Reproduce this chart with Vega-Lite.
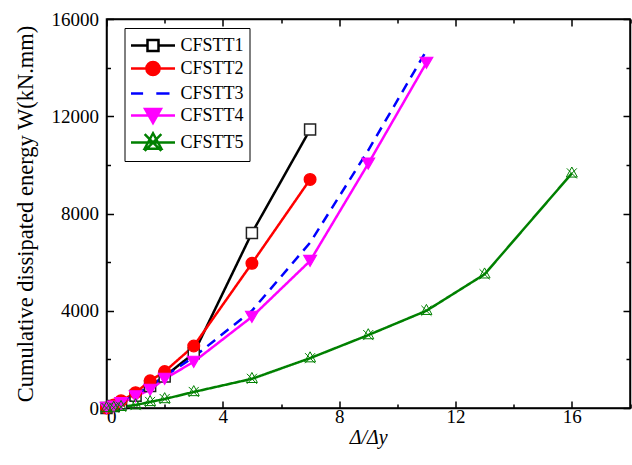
{
  "$schema": "https://vega.github.io/schema/vega-lite/v6.json",
  "autosize": {"type": "fit", "contains": "padding"},
  "width": 632,
  "height": 465,
  "padding": {"left": 13.5, "top": 10, "right": 1, "bottom": 18},
  "background": "white",
  "data": {
    "values": [
      {"series": "CFSTT1", "x": 0, "y": 0},
      {"series": "CFSTT1", "x": 0.25, "y": 80},
      {"series": "CFSTT1", "x": 0.5, "y": 200},
      {"series": "CFSTT1", "x": 1, "y": 500},
      {"series": "CFSTT1", "x": 1.5, "y": 900},
      {"series": "CFSTT1", "x": 2, "y": 1300},
      {"series": "CFSTT1", "x": 3, "y": 2250},
      {"series": "CFSTT1", "x": 5, "y": 7200},
      {"series": "CFSTT1", "x": 7, "y": 11450},
      {"series": "CFSTT2", "x": 0, "y": 0},
      {"series": "CFSTT2", "x": 0.25, "y": 120},
      {"series": "CFSTT2", "x": 0.5, "y": 300},
      {"series": "CFSTT2", "x": 1, "y": 630},
      {"series": "CFSTT2", "x": 1.5, "y": 1120},
      {"series": "CFSTT2", "x": 2, "y": 1500},
      {"series": "CFSTT2", "x": 3, "y": 2550},
      {"series": "CFSTT2", "x": 5, "y": 5950},
      {"series": "CFSTT2", "x": 7, "y": 9400},
      {"series": "CFSTT3", "x": 0, "y": 0},
      {"series": "CFSTT3", "x": 0.25, "y": 60},
      {"series": "CFSTT3", "x": 0.5, "y": 200},
      {"series": "CFSTT3", "x": 1, "y": 550},
      {"series": "CFSTT3", "x": 1.5, "y": 900},
      {"series": "CFSTT3", "x": 2, "y": 1300},
      {"series": "CFSTT3", "x": 3, "y": 2100},
      {"series": "CFSTT3", "x": 5, "y": 4000},
      {"series": "CFSTT3", "x": 7, "y": 6800},
      {"series": "CFSTT3", "x": 9, "y": 10600},
      {"series": "CFSTT3", "x": 11, "y": 14700},
      {"series": "CFSTT4", "x": 0, "y": 0},
      {"series": "CFSTT4", "x": 0.25, "y": 60},
      {"series": "CFSTT4", "x": 0.5, "y": 200},
      {"series": "CFSTT4", "x": 1, "y": 480},
      {"series": "CFSTT4", "x": 1.5, "y": 750},
      {"series": "CFSTT4", "x": 2, "y": 1200},
      {"series": "CFSTT4", "x": 3, "y": 1900},
      {"series": "CFSTT4", "x": 5, "y": 3750},
      {"series": "CFSTT4", "x": 7, "y": 6050},
      {"series": "CFSTT4", "x": 9, "y": 10050},
      {"series": "CFSTT4", "x": 11, "y": 14200},
      {"series": "CFSTT5", "x": 0, "y": 0},
      {"series": "CFSTT5", "x": 0.25, "y": 20},
      {"series": "CFSTT5", "x": 0.5, "y": 50},
      {"series": "CFSTT5", "x": 1, "y": 120},
      {"series": "CFSTT5", "x": 1.5, "y": 250},
      {"series": "CFSTT5", "x": 2, "y": 370},
      {"series": "CFSTT5", "x": 3, "y": 660},
      {"series": "CFSTT5", "x": 5, "y": 1200},
      {"series": "CFSTT5", "x": 7, "y": 2050},
      {"series": "CFSTT5", "x": 9, "y": 3000},
      {"series": "CFSTT5", "x": 11, "y": 4000},
      {"series": "CFSTT5", "x": 13, "y": 5500},
      {"series": "CFSTT5", "x": 16, "y": 9650}
    ]
  },
  "layer": [
    {
      "mark": {"type": "line", "clip": true},
      "encoding": {
        "x": {
          "field": "x", "type": "quantitative",
          "scale": {"domain": [0, 18], "nice": false, "zero": true},
          "axis": {
            "orient": "bottom",
            "values": [0, 2, 4, 6, 8, 10, 12, 14, 16, 18],
            "labelExpr": "datum.value % 4 == 0 && datum.value <= 16 ? datum.label : ''",
            "grid": false,
            "labelPadding": 6,
            "tickSize": {"condition": {"test": "datum.value % 4 == 0", "value": -7}, "value": -4},
            "title": "Δ/Δy",
            "titleFontStyle": "italic",
            "titleFontSize": 20,
            "titleFontWeight": "normal",
            "titlePadding": 1
          }
        },
        "y": {
          "field": "y", "type": "quantitative",
          "scale": {"domain": [0, 16000], "nice": false, "zero": true},
          "axis": {
            "orient": "left",
            "values": [0, 2000, 4000, 6000, 8000, 10000, 12000, 14000, 16000],
            "format": "d",
            "labelExpr": "datum.value % 4000 == 0 ? datum.label : ''",
            "grid": false,
            "labelPadding": 15,
            "tickSize": {"condition": {"test": "datum.value % 4000 == 0", "value": -7}, "value": -4},
            "title": "Cumulative dissipated energy W(kN.mm)",
            "titleFontSize": 22.5,
            "titleFontWeight": "normal",
            "titlePadding": 14
          }
        },
        "stroke": {
          "field": "series", "type": "nominal", "legend": null,
          "scale": {"domain": ["CFSTT1", "CFSTT2", "CFSTT3", "CFSTT4", "CFSTT5"], "range": ["#000000", "#ff0000", "#0000ff", "#ff00ff", "#008000"]}
        },
        "strokeDash": {
          "field": "series", "type": "nominal", "legend": null,
          "scale": {"domain": ["CFSTT1", "CFSTT2", "CFSTT3", "CFSTT4", "CFSTT5"], "range": [[1, 0], [1, 0], [10, 7], [1, 0], [1, 0]]}
        },
        "strokeWidth": {
          "field": "series", "type": "nominal", "legend": null,
          "scale": {"domain": ["CFSTT1", "CFSTT2", "CFSTT3", "CFSTT4", "CFSTT5"], "range": [2.5, 2.5, 2.5, 2.5, 3]}
        },
        "order": {"field": "x", "type": "quantitative"}
      }
    },
    {
      "transform": [{"filter": "datum.series != 'CFSTT3'"}],
      "mark": {"type": "point", "opacity": 1},
      "encoding": {
        "x": {
          "field": "x", "type": "quantitative",
          "axis": {
            "orient": "top",
            "values": [0, 2, 4, 6, 8, 10, 12, 14, 16, 18],
            "labels": false, "grid": false, "title": null,
            "tickSize": {"condition": {"test": "datum.value % 4 == 0", "value": -7}, "value": -4}
          }
        },
        "y": {
          "field": "y", "type": "quantitative",
          "axis": {
            "orient": "right",
            "values": [0, 2000, 4000, 6000, 8000, 10000, 12000, 14000, 16000],
            "labels": false, "grid": false, "title": null,
            "tickSize": {"condition": {"test": "datum.value % 4000 == 0", "value": -7}, "value": -4}
          }
        },
        "shape": {
          "field": "series", "type": "nominal", "legend": null,
          "scale": {"domain": ["CFSTT1", "CFSTT2", "CFSTT3", "CFSTT4", "CFSTT5"], "range": ["square", "circle", "circle", "triangle-down", "M0,-0.95L0.82,0.55L-0.82,0.55Z M-0.75,-0.75L0.75,0.75 M0.75,-0.75L-0.75,0.75"]}
        },
        "size": {
          "field": "series", "type": "nominal", "legend": null,
          "scale": {"domain": ["CFSTT1", "CFSTT2", "CFSTT3", "CFSTT4", "CFSTT5"], "range": [121, 180, 0, 240, 420]}
        },
        "fill": {
          "field": "series", "type": "nominal", "legend": null,
          "scale": {"domain": ["CFSTT1", "CFSTT2", "CFSTT3", "CFSTT4", "CFSTT5"], "range": ["#ffffff", "#ff0000", "#0000ff", "#ff00ff", "transparent"]}
        },
        "stroke": {
          "field": "series", "type": "nominal", "legend": null,
          "scale": {"domain": ["CFSTT1", "CFSTT2", "CFSTT3", "CFSTT4", "CFSTT5"], "range": ["#222222", "#ff0000", "#0000ff", "#ff00ff", "#008000"]}
        },
        "strokeWidth": {
          "field": "series", "type": "nominal", "legend": null,
          "scale": {"domain": ["CFSTT1", "CFSTT2", "CFSTT3", "CFSTT4", "CFSTT5"], "range": [1.5, 1, 1, 1, 1.1]}
        }
      }
    },
    {
      "transform": [{"filter": "false"}],
      "mark": {"type": "point", "size": 484, "opacity": 1},
      "encoding": {
        "x": {"field": "x", "type": "quantitative", "axis": null},
        "y": {"field": "y", "type": "quantitative", "axis": null},
        "shape": {
          "field": "series", "type": "nominal",
          "scale": {"domain": ["CFSTT1", "CFSTT2", "CFSTT3", "CFSTT4", "CFSTT5"], "range": [
            "M-2,0H-0.5 M0.5,0H2 M-0.5,-0.5H0.5V0.5H-0.5Z",
            "M-2,0H2 M0.6,0A0.6,0.6 0 1,1 -0.6,0A0.6,0.6 0 1,1 0.6,0Z",
            "M-2,0H-0.9 M0.3,0H1.5",
            "M-2,0H2 M-0.72,-0.6H0.72L0,0.68Z",
            "M-2,0H2 M0,-0.84L0.76,0.56L-0.76,0.56Z M-0.76,-0.76L0.76,0.76 M0.76,-0.76L-0.76,0.76"
          ]},
          "legend": {
            "title": null,
            "orient": "none",
            "legendX": 18,
            "legendY": 9,
            "strokeColor": "black",
            "fillColor": "white",
            "padding": 5,
            "labelFont": "Liberation Serif",
            "labelFontSize": 18,
            "labelColor": "black",
            "symbolSize": 484,
            "symbolOffset": 11,
            "symbolStrokeWidth": 2.5,
            "symbolOpacity": 1,
            "labelOffset": 15,
            "rowPadding": 0
          }
        },
        "fill": {
          "field": "series", "type": "nominal",
          "scale": {"domain": ["CFSTT1", "CFSTT2", "CFSTT3", "CFSTT4", "CFSTT5"], "range": ["#ffffff", "#ff0000", "#0000ff", "#ff00ff", "transparent"]}
        },
        "stroke": {
          "field": "series", "type": "nominal",
          "scale": {"domain": ["CFSTT1", "CFSTT2", "CFSTT3", "CFSTT4", "CFSTT5"], "range": ["#000000", "#ff0000", "#0000ff", "#ff00ff", "#008000"]}
        }
      }
    }
  ],
  "resolve": {
    "scale": {"shape": "independent", "fill": "independent", "stroke": "independent", "size": "independent", "strokeWidth": "independent"},
    "axis": {"x": "independent", "y": "independent"}
  },
  "config": {
    "font": "Liberation Serif",
    "view": {"stroke": "black", "strokeWidth": 1.5},
    "axis": {
      "domainColor": "black",
      "domainWidth": 1.5,
      "tickColor": "black",
      "tickWidth": 1.5,
      "labelColor": "black",
      "labelFont": "Liberation Serif",
      "labelFontSize": 19,
      "titleColor": "black",
      "titleFont": "Liberation Serif"
    }
  }
}
